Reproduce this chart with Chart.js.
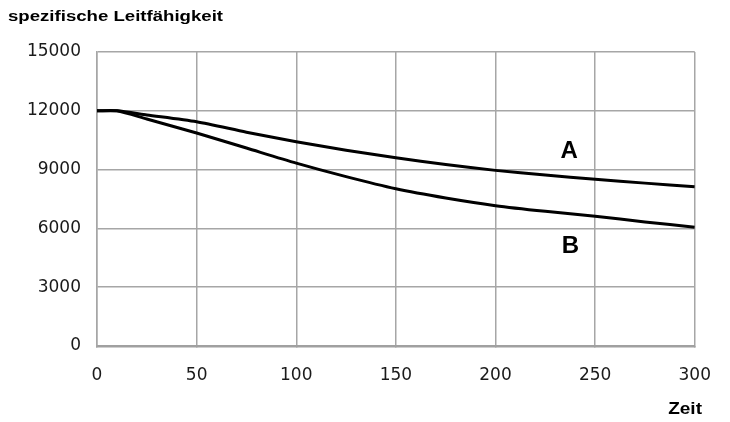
<!DOCTYPE html>
<html><head><meta charset="utf-8">
<script src="https://cdn.jsdelivr.net/npm/chart.js@4.4.1/dist/chart.umd.min.js"></script>
<style>html,body{margin:0;padding:0;background:#fff}#wrap{width:730px;height:422px}</style>
</head><body><div id="wrap"><canvas id="c"></canvas></div>
<script>
const zeit = [0, 10, 25, 50, 75, 100, 125, 150, 175, 200, 225, 250, 275, 300];
const seriesA = [12000, 12000, 11790, 11440, 10910, 10420, 9990, 9600, 9260, 8960, 8720, 8510, 8310, 8120];
const seriesB = [12000, 12000, 11580, 10870, 10100, 9330, 8640, 8020, 7550, 7160, 6870, 6620, 6330, 6060];
const xTicks = [0, 50, 100, 150, 200, 250, 300];
const yTicks = [0, 3000, 6000, 9000, 12000, 15000];
const seriesLabels = [{text: 'A', x: 237, y: 9930}, {text: 'B', x: 237.6, y: 5100}];
const yTitle = 'spezifische Leitfähigkeit';
const xTitle = 'Zeit';

const tickFont = {family: 'DejaVu Sans', size: 17};
const overlay = {
  id: 'overlay',
  afterDraw(chart) {
    const ctx = chart.ctx, xs = chart.scales.x, ys = chart.scales.y;
    ctx.save();
    ctx.fillStyle = '#000';
    ctx.font = 'bold 24px "Liberation Sans", Arial, sans-serif';
    ctx.textAlign = 'center'; ctx.textBaseline = 'middle';
    seriesLabels.forEach(l => ctx.fillText(l.text, xs.getPixelForValue(l.x), ys.getPixelForValue(l.y)));
    ctx.textBaseline = 'alphabetic';
    // y-axis title (top-left), slightly widened like the reference
    ctx.save();
    ctx.translate(8, 20.7); ctx.scale(1.24, 1);
    ctx.font = 'bold 15px "Liberation Sans", Arial, sans-serif';
    ctx.textAlign = 'left';
    ctx.fillText(yTitle, 0, 0);
    ctx.restore();
    // x-axis title (bottom-right)
    ctx.save();
    ctx.translate(702, 414.3); ctx.scale(1.12, 1);
    ctx.font = 'bold 17px "Liberation Sans", Arial, sans-serif';
    ctx.textAlign = 'right';
    ctx.fillText(xTitle, 0, 0);
    ctx.restore();
    ctx.restore();
  }
};

new Chart(document.getElementById('c'), {
  type: 'line',
  data: {
    datasets: [
      {label: 'A', data: zeit.map((t, i) => ({x: t, y: seriesA[i]}))},
      {label: 'B', data: zeit.map((t, i) => ({x: t, y: seriesB[i]}))}
    ].map(d => Object.assign(d, {borderColor: '#000', borderWidth: 3, pointRadius: 0, tension: 0.25, fill: false}))
  },
  options: {
    responsive: true, maintainAspectRatio: false, animation: false,
    layout: {padding: {top: 52, right: 33, left: 0, bottom: 0}},
    plugins: {legend: {display: false}, tooltip: {enabled: false}},
    scales: {
      x: {
        type: 'linear', min: 0, max: 300,
        afterBuildTicks: s => { s.ticks = xTicks.map(v => ({value: v})); },
        afterFit: s => { s.height = 76; },
        grid: {color: '#a6a6a6', lineWidth: 1.5, tickLength: 0},
        border: {color: '#a0a0a0', width: 2.5},
        ticks: {color: '#1a1a1a', font: tickFont, padding: 19, maxRotation: 0}
      },
      y: {
        min: 0, max: 15000,
        afterBuildTicks: s => { s.ticks = yTicks.map(v => ({value: v})); },
        afterFit: s => { s.width = 97; },
        grid: {color: '#a6a6a6', lineWidth: 1.5, tickLength: 0},
        border: {color: '#a6a6a6', width: 1.5},
        ticks: {color: '#1a1a1a', font: tickFont, padding: 16, callback: v => String(v)}
      }
    }
  },
  plugins: [overlay]
});
</script></body></html>
